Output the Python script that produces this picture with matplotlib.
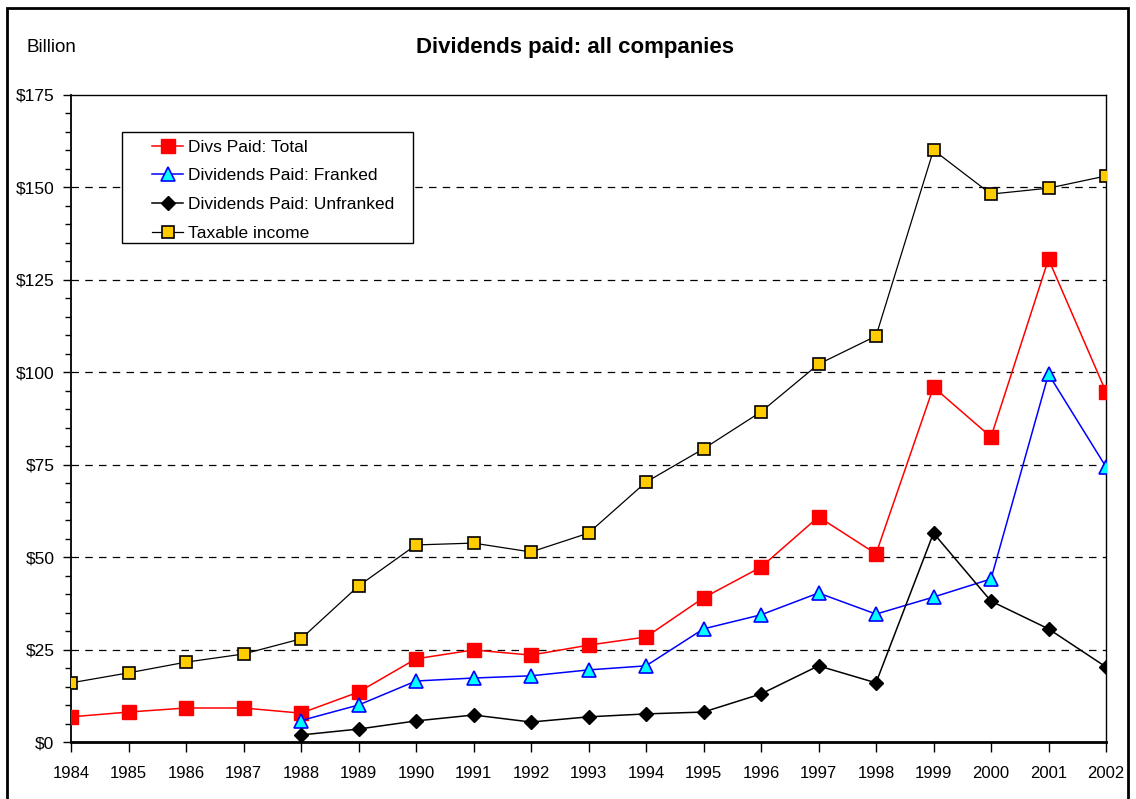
import numpy as np
import matplotlib.pyplot as plt
from matplotlib.patches import Rectangle
from matplotlib.ticker import MultipleLocator

plt.rcParams['font.family'] = ['Liberation Sans', 'DejaVu Sans']

# data
years = np.arange(1984, 2003)
years_split = np.arange(1988, 2003)
total = [6.8, 8.1, 9.2, 9.2, 7.8, 13.5, 22.5, 24.9, 23.5, 26.2, 28.4, 39.0, 47.3, 60.9, 50.9, 96.0, 82.5, 130.6, 94.7]
franked = [5.8, 10.0, 16.5, 17.3, 17.9, 19.5, 20.6, 30.6, 34.4, 40.3, 34.6, 39.2, 44.1, 99.5, 74.4]
unfranked = [1.9, 3.5, 5.7, 7.3, 5.4, 6.8, 7.6, 8.1, 13.0, 20.6, 16.0, 56.5, 38.1, 30.6, 20.3]
taxable = [16.0, 18.7, 21.6, 23.8, 27.9, 42.2, 53.3, 53.8, 51.4, 56.5, 70.3, 79.3, 89.3, 102.2, 109.8, 160.1, 148.2, 149.8, 153.1]
yticks = [0, 25, 50, 75, 100, 125, 150, 175]

fig = plt.figure(figsize=(11.36, 7.99), dpi=100)
ax = fig.add_axes([71/1136, 1-742/799, 1035/1136, 647/799])

ax.plot(years, total, color='red', marker='s', ms=10, mfc='red', mec='red', lw=1.1, label='Divs Paid: Total', zorder=3)
ax.plot(years_split, franked, color='blue', marker='^', ms=10, mfc='cyan', mec='blue', mew=1.2, lw=1.1, label='Dividends Paid: Franked', zorder=3)
ax.plot(years_split, unfranked, color='black', marker='D', ms=7, mfc='black', mec='black', lw=1.1, label='Dividends Paid: Unfranked', zorder=3)
ax.plot(years, taxable, color='black', marker='s', ms=8.5, mfc='#ffcc00', mec='black', mew=1.2, lw=0.9, label='Taxable income', zorder=3)

ax.set_xlim(1984, 2002)
ax.set_ylim(0, 175)
ax.set_xticks(years)
ax.set_xticklabels([str(y) for y in years])
ax.set_yticks(yticks)
ax.set_yticklabels(['$' + str(v) for v in yticks])
ax.yaxis.set_minor_locator(MultipleLocator(5))
ax.tick_params(axis='y', which='major', direction='out', length=6, width=1, labelsize=12.5, pad=6)
ax.tick_params(axis='y', which='minor', direction='out', length=4, width=1)
ax.tick_params(axis='x', direction='out', length=7, width=1, labelsize=12, pad=10)

for y in yticks[1:-1]:
    ax.axhline(y, color='black', lw=0.9, ls=(0, (6, 5)), zorder=1)

ax.spines['bottom'].set_linewidth(2)
ax.spines['left'].set_linewidth(1.3)
ax.spines['top'].set_linewidth(1)
ax.spines['right'].set_linewidth(1)

# legend box drawn separately so its size matches the original
ax.add_patch(Rectangle(((122-71)/1035, (742-243)/647), (413-122)/1035, (243-132)/647,
                       transform=ax.transAxes, facecolor='white', edgecolor='black', lw=1, zorder=4))
leg = ax.legend(loc='upper left', bbox_to_anchor=((152-71)/1035, (742-139.5)/647),
                fontsize=12.5, frameon=False, borderaxespad=0, borderpad=0,
                handlelength=1.8, handletextpad=0.25, labelspacing=0.78)
leg.set_zorder(5)

fig.text(575/1136, 1-48/799, 'Dividends paid: all companies', ha='center', va='center',
         fontsize=16, fontweight='bold')
fig.text(27/1136, 1-48/799, 'Billion', ha='left', va='center', fontsize=13.5)

fig.patches.append(Rectangle((7/1136, -0.05), (1128-7)/1136, 1.05-8/799, transform=fig.transFigure,
                             fill=False, edgecolor='black', lw=2))

fig.savefig('out.png', dpi=100)
